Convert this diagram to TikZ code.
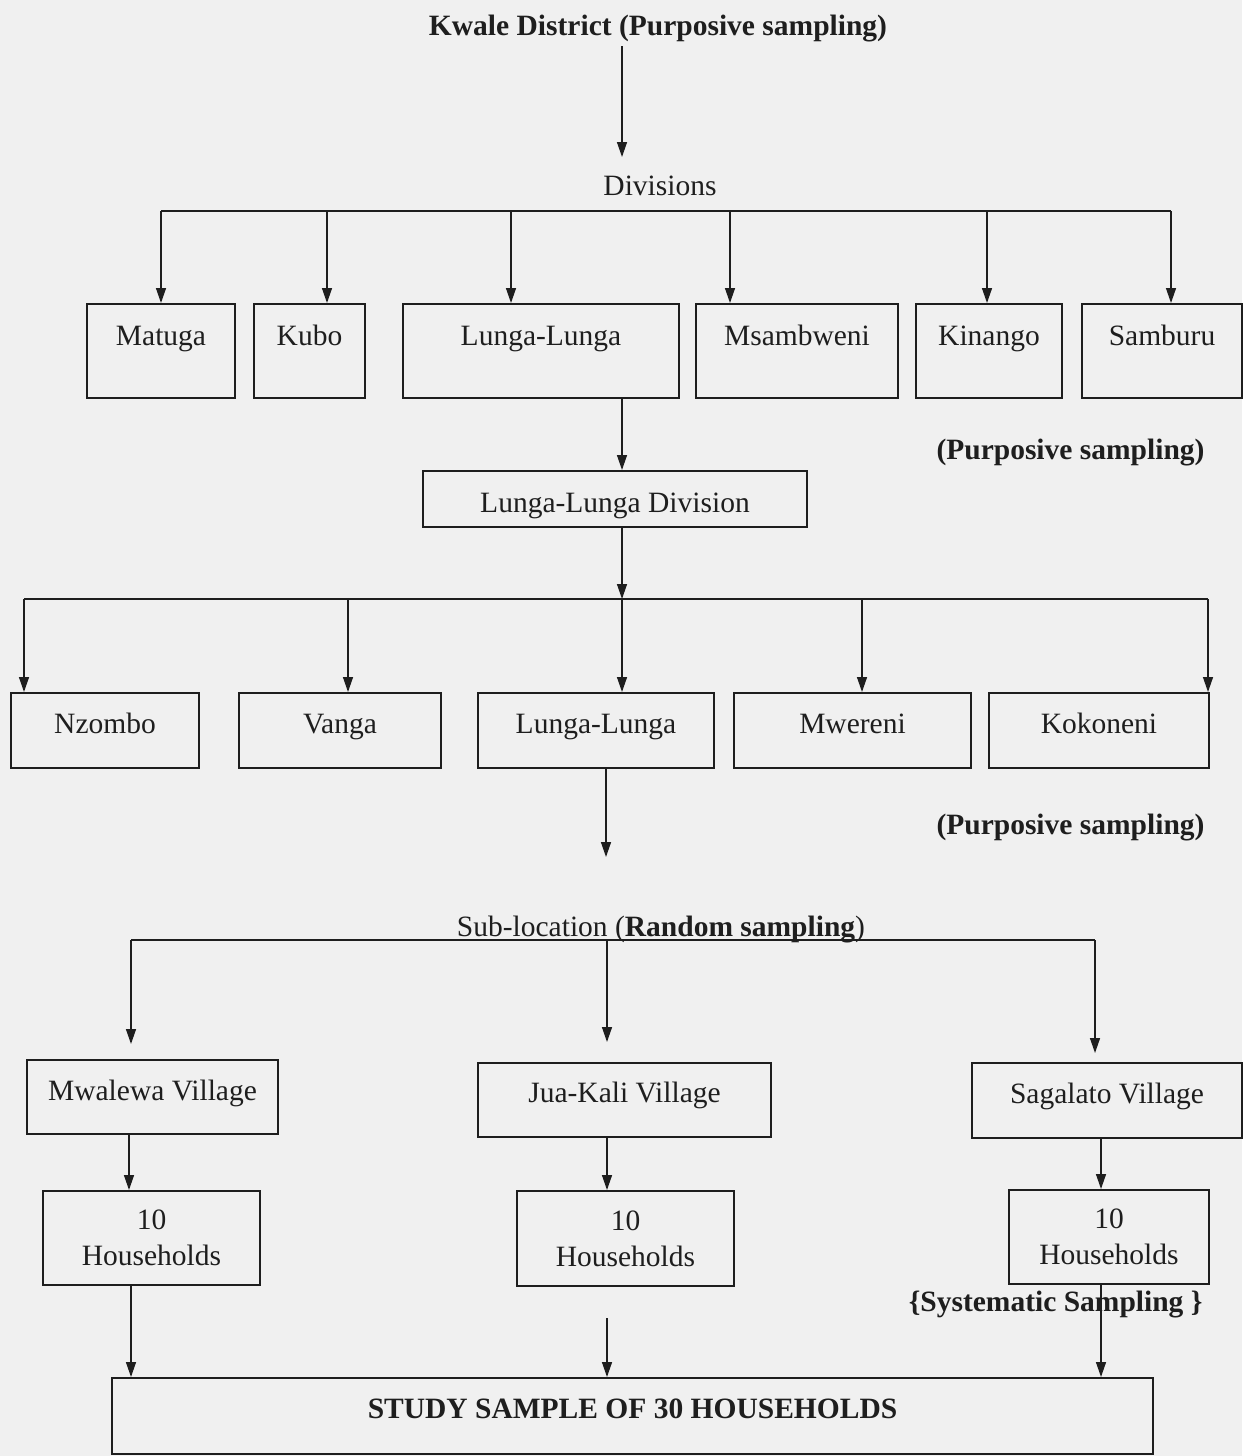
\documentclass[tikz,border=0pt]{standalone}
\usepackage{fontspec}
\setmainfont{Liberation Serif}
\usetikzlibrary{arrows.meta,calc}
\definecolor{bg}{HTML}{F0F0F0}
\definecolor{ink}{HTML}{1E1E1E}
\begin{document}
\begin{tikzpicture}[x=1pt,y=-1pt,
  every node/.style={font=\fontsize{29.5}{36}\selectfont, text=ink},
  box/.style={draw=ink, line width=2pt, inner xsep=0pt, inner ysep=0pt, anchor=north west},
  arr/.style={draw=ink, line width=1.4pt, -{Triangle[length=15pt,width=10pt]}},
  ln/.style={draw=ink, line width=1.4pt},
  bold/.style={font=\fontsize{29.5}{36}\selectfont\bfseries}]
\useasboundingbox (0,0) rectangle (1242,1456);
\fill[bg] (0,0) rectangle (1242,1456);

% ---- texts
\node[bold] (title) at (658,29) {Kwale District (Purposive sampling)};
\node (divs) at (660,186) {Divisions};
\node[bold, anchor=east] (ps1) at (1208,453) {(Purposive sampling)};
\node[bold, anchor=east] (ps2) at (1208,828) {(Purposive sampling)};
\node[bold, anchor=east] (sys) at (1206,1305) {\{Systematic Sampling \}};

% ---- row 1
\node[box, minimum width=148pt, text height=41pt, text depth=53pt] (matuga) at (86,303) {Matuga};
\node[box, minimum width=111pt, text height=41pt, text depth=53pt] (kubo) at (253,303) {Kubo};
\node[box, minimum width=276pt, text height=41pt, text depth=53pt] (ll1) at (402,303) {Lunga-Lunga};
\node[box, minimum width=202pt, text height=41pt, text depth=53pt] (msam) at (695,303) {Msambweni};
\node[box, minimum width=146pt, text height=41pt, text depth=53pt] (kin) at (915,303) {Kinango};
\node[box, minimum width=160pt, text height=41pt, text depth=53pt] (samb) at (1081,303) {Samburu};

% ---- division
\node[box, minimum width=384pt, text height=41pt, text depth=15pt] (lld) at (422,470) {Lunga-Lunga Division};

% ---- row 2
\node[box, minimum width=188pt, text height=40pt, text depth=35pt] (nz) at (10,692) {Nzombo};
\node[box, minimum width=202pt, text height=40pt, text depth=35pt] (va) at (238,692) {Vanga};
\node[box, minimum width=236pt, text height=40pt, text depth=35pt] (ll2) at (477,692) {Lunga-Lunga};
\node[box, minimum width=237pt, text height=40pt, text depth=35pt] (mw) at (733,692) {Mwereni};
\node[box, minimum width=220pt, text height=40pt, text depth=35pt] (ko) at (988,692) {Kokoneni};

% ---- sub-location
\coordinate (b3l) at (131,940);
\coordinate (b3m) at (607,940);
\coordinate (b3r) at (1095,940);
\draw[ln] (b3l) -- (b3r);
\node (sub) at (661,930) {Sub-location (\textbf{Random sampling})};

% ---- villages
\node[box, minimum width=251pt, text height=40pt, text depth=34pt] (mwa) at (26,1059) {Mwalewa Village};
\node[box, minimum width=293pt, text height=39pt, text depth=35pt] (jua) at (477,1062) {Jua-Kali Village};
\node[box, minimum width=270pt, text height=40pt, text depth=35pt] (sag) at (971,1062) {Sagalato Village};

% ---- households
\node[box, minimum width=217pt, minimum height=94pt, align=center] (h1) at (42,1190) {10\\Households};
\node[box, minimum width=217pt, minimum height=95pt, align=center] (h2) at (516,1190) {10\\Households};
\node[box, minimum width=200pt, minimum height=94pt, align=center] (h3) at (1008,1189) {10\\Households};

% ---- study sample
\node[box, bold, minimum width=1041pt, text height=40pt, text depth=36pt] (study) at (111,1377) {STUDY SAMPLE OF 30 HOUSEHOLDS};

% ---- connectors, top part
\coordinate (a0) at (622,157);
\draw[arr] (title.south -| a0) -- (a0);

\coordinate (t1) at (161,211);
\coordinate (t2) at (327,211);
\coordinate (t3) at (511,211);
\coordinate (t4) at (730,211);
\coordinate (t5) at (987,211);
\coordinate (t6) at (1171,211);
\draw[ln] (t1) -- (t6);
\draw[arr] (t1) -- (t1 |- matuga.north);
\draw[arr] (t2) -- (t2 |- kubo.north);
\draw[arr] (t3) -- (t3 |- ll1.north);
\draw[arr] (t4) -- (t4 |- msam.north);
\draw[arr] (t5) -- (t5 |- kin.north);
\draw[arr] (t6) -- (t6 |- samb.north);

\coordinate (c1) at (622,599);
\draw[arr] (ll1.south -| c1) -- (lld.north -| c1);
\draw[arr] (lld.south -| c1) -- (c1);

\coordinate (u1) at (24,599);
\coordinate (u2) at (348,599);
\coordinate (u4) at (862,599);
\coordinate (u5) at (1208,599);
\draw[ln] (u1) -- (u5);
\draw[arr] (u1) -- (u1 |- nz.north);
\draw[arr] (u2) -- (u2 |- va.north);
\draw[arr] (c1) -- (c1 |- ll2.north);
\draw[arr] (u4) -- (u4 |- mw.north);
\draw[arr] (u5) -- (u5 |- ko.north);

\coordinate (d1) at (606,857);
\draw[arr] (ll2.south -| d1) -- (d1);

% ---- connectors, bottom part
\draw[arr] (b3l) -- ($(b3l |- mwa.north)+(0,-15)$);
\draw[arr] (b3m) -- ($(b3m |- jua.north)+(0,-20)$);
\draw[arr] (b3r) -- ($(b3r |- sag.north)+(0,-9)$);

\coordinate (colL) at (129,0);
\coordinate (colR) at (1101,0);
\draw[arr] (mwa.south -| colL) -- (h1.north -| colL);
\draw[arr] (jua.south -| b3m) -- (h2.north -| b3m);
\draw[arr] (sag.south -| colR) -- (h3.north -| colR);

\coordinate (m4) at (607,1318);
\draw[arr] (h1.south -| b3l) -- (study.north -| b3l);
\draw[arr] (m4) -- (study.north -| m4);
\draw[arr] (h3.south -| colR) -- (study.north -| colR);
\end{tikzpicture}
\end{document}
